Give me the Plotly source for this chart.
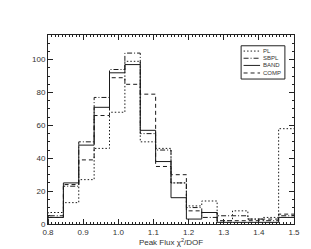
import plotly.graph_objects as go

bin_edges = [0.8, 0.84375, 0.8875, 0.93125, 0.975, 1.01875, 1.0625, 1.10625, 1.15,
             1.19375, 1.2375, 1.28125, 1.325, 1.36875, 1.4125, 1.45625, 1.5]
pl   = [7, 13, 27, 46, 68, 99, 50, 46, 25, 11, 14, 2, 8, 3, 4, 58]
sbpl = [5, 23, 50, 77, 94, 104, 55, 45, 25, 10, 4, 5, 5, 3, 2, 5]
band = [4, 25, 48, 71, 92, 97, 57, 38, 16, 3, 7, 1, 1, 1, 1, 4]
comp = [4, 24, 39, 66, 89, 85, 79, 35, 30, 8, 7, 2, 2, 2, 3, 6]
series_names = ["PL", "SBPL", "BAND", "COMP"]
series_vals = [pl, sbpl, band, comp]
series_dash = ["1.5px,2px", "5px,2px,1px,2px", "solid", "4px,3px"]

FONT = "Liberation Sans, Arial"
fig = go.Figure()
for name, vals, dash in zip(series_names, series_vals, series_dash):
    xs = [bin_edges[0]] + bin_edges
    ys = [0] + list(vals) + [vals[-1]]
    fig.add_trace(go.Scatter(x=xs, y=ys, mode="lines", name=name, showlegend=False,
                             line=dict(shape="hv", dash=dash, color="#1a1a1a", width=1)))

# compact legend (box, samples, labels) in paper coordinates
lx0, lx1, ly0, ly1 = 0.785, 0.963, 0.767, 0.943
fig.add_shape(type="rect", xref="paper", yref="paper", x0=lx0, x1=lx1, y0=ly0, y1=ly1,
              line=dict(color="#222", width=1), fillcolor="white", layer="above")
row_y = [0.915, 0.877, 0.839, 0.799]
for name, dash, ry in zip(series_names, series_dash, row_y):
    fig.add_shape(type="line", xref="paper", yref="paper", x0=0.795, x1=0.862, y0=ry, y1=ry,
                  line=dict(color="#222", width=1, dash=dash), layer="above")
    fig.add_annotation(xref="paper", yref="paper", x=0.864, y=ry, text=name, showarrow=False,
                       xanchor="left", yanchor="middle", font=dict(family=FONT, size=6, color="#333"))

axis_common = dict(showgrid=False, zeroline=False, showline=True, linecolor="#222", linewidth=1,
                   ticks="inside", mirror="allticks", tickcolor="#222", ticklen=5,
                   tickfont=dict(family=FONT, size=8, color="#333"))
fig.update_xaxes(range=[0.8, 1.5], dtick=0.1, tickformat=".1f",
                 minor=dict(dtick=0.01, ticks="inside", ticklen=2, tickcolor="#222"),
                 title=dict(text="Peak Flux χ<sup>2</sup>/DOF", font=dict(family=FONT, size=8, color="#333"), standoff=0),
                 **axis_common)
fig.update_yaxes(range=[0, 115], dtick=20,
                 minor=dict(dtick=5, ticks="inside", ticklen=2, tickcolor="#222"),
                 **axis_common)
fig.update_layout(width=311, height=249, margin=dict(l=40, r=25, t=27, b=33),
                  paper_bgcolor="white", plot_bgcolor="white", showlegend=False)
fig.write_html("out.html")
